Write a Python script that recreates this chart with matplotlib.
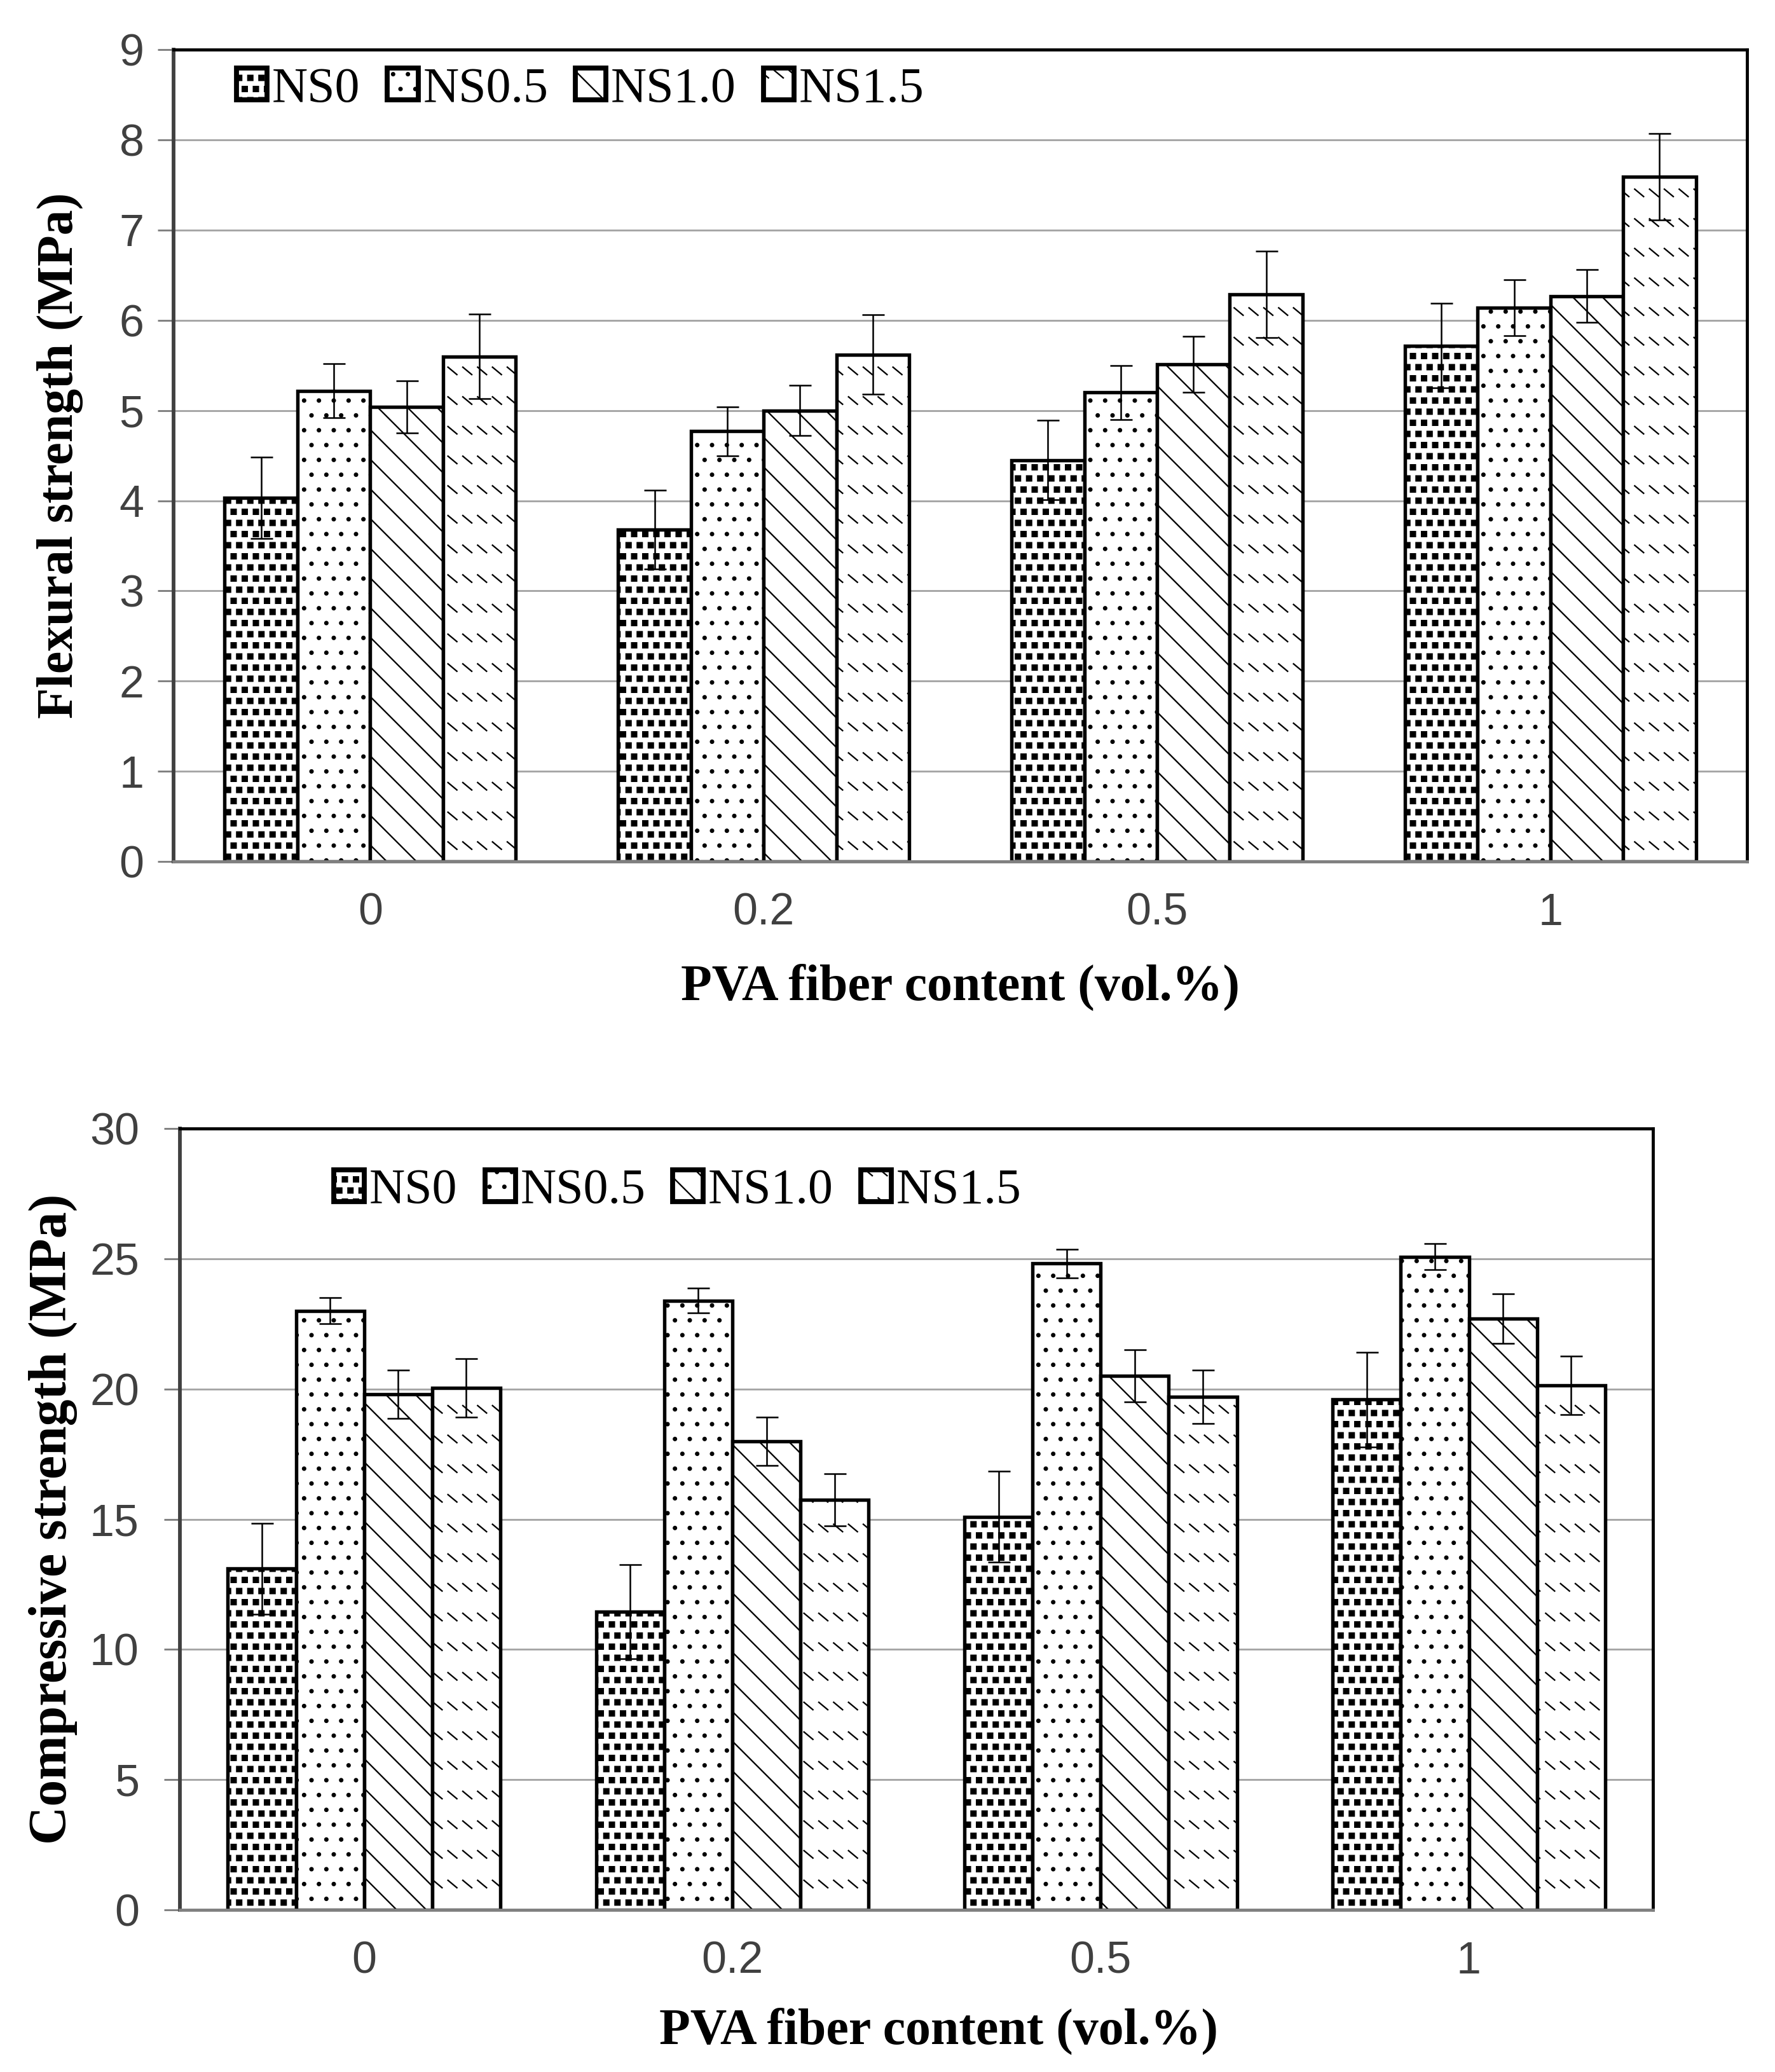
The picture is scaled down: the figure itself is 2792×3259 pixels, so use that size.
import numpy as np
import matplotlib
matplotlib.use('Agg')
import matplotlib.pyplot as plt
import matplotlib.hatch as mhatch
from matplotlib.path import Path

# categories and series
fiber = ['0', '0.2', '0.5', '1']
series = ['NS0', 'NS0.5', 'NS1.0', 'NS1.5']

# flexural strength (MPa)
flex_ns0 = [4.03, 3.68, 4.45, 5.72]
flex_ns05 = [5.22, 4.77, 5.20, 6.14]
flex_ns10 = [5.04, 5.00, 5.51, 6.27]
flex_ns15 = [5.60, 5.62, 6.29, 7.59]
flex_err_ns0 = [0.45, 0.44, 0.44, 0.47]
flex_err_ns05 = [0.30, 0.27, 0.30, 0.31]
flex_err_ns10 = [0.29, 0.28, 0.31, 0.29]
flex_err_ns15 = [0.47, 0.44, 0.48, 0.48]

# compressive strength (MPa)
comp_ns0 = [13.1, 11.45, 15.1, 19.6]
comp_ns05 = [23.0, 23.4, 24.82, 25.08]
comp_ns10 = [19.8, 18.0, 20.5, 22.7]
comp_ns15 = [20.05, 15.75, 19.7, 20.15]
comp_err_ns0 = [1.75, 1.8, 1.75, 1.82]
comp_err_ns05 = [0.5, 0.47, 0.55, 0.5]
comp_err_ns10 = [0.93, 0.93, 1.0, 0.95]
comp_err_ns15 = [1.12, 1.0, 1.02, 1.12]


# Excel-like fill patterns: small squares ('O') and rows of short dashes ('*')
class SquareDots(mhatch.Shapes):
    filled = True
    size = 0.22

    def __init__(self, hatch, density):
        self.num_rows = int(hatch.count('O') * density * 1.4) // 2 * 2
        self.shape_vertices = np.array([[-1, -1], [1, -1], [1, 1], [-1, 1], [-1, -1]], float)
        self.shape_codes = np.array([Path.MOVETO, Path.LINETO, Path.LINETO,
                                     Path.LINETO, Path.CLOSEPOLY], dtype=Path.code_type)
        super().__init__(hatch, density)


class DashRows(mhatch.HatchPatternBase):
    def __init__(self, hatch, density):
        n = hatch.count('*')
        self.rows = 3 * n
        self.cols = 6 * n
        self.num_vertices = self.rows * self.cols * 2

    def set_vertices_and_codes(self, vertices, codes):
        xs = (np.arange(self.cols) + 0.5) / self.cols
        ys = (np.arange(self.rows) + 0.5) / self.rows
        gx, gy = np.meshgrid(xs, ys)
        gx = gx.ravel()
        gy = gy.ravel()
        dx = 0.3 / self.cols
        dy = 0.25 / self.cols
        vertices[0::2, 0] = gx - dx
        vertices[0::2, 1] = gy + dy
        vertices[1::2, 0] = gx + dx
        vertices[1::2, 1] = gy - dy
        codes[0::2] = Path.MOVETO
        codes[1::2] = Path.LINETO


mhatch._hatch_types = [h for h in mhatch._hatch_types
                       if h not in (mhatch.LargeCircles, mhatch.Stars)] + [SquareDots, DashRows]

plt.rcParams['hatch.linewidth'] = 1.2
hatches = ['O', '.', '\\', '*']

DPI = 140
fig = plt.figure(figsize=(2792 / DPI, 3259 / DPI), dpi=DPI)


def draw_panel(ax, data, errs, ymax, ystep, ylabel, ylab_size, ylab_x, tick_pad, leg_anchor, xlab_x):
    x = np.arange(len(fiber))
    w = 0.185
    for i, (vals, err) in enumerate(zip(data, errs)):
        pos = x + (i - 1.5) * w
        ax.bar(pos, vals, w, color='white', edgecolor='black', linewidth=2.8,
               hatch=hatches[i], label=series[i], zorder=2)
        ax.errorbar(pos, vals, yerr=err, fmt='none', ecolor='black',
                    elinewidth=1.3, capsize=9, capthick=1.3, zorder=3)
    ax.set_xlim(-0.5, len(fiber) - 0.5)
    ax.set_ylim(0, ymax)
    ax.set_yticks(np.arange(0, ymax + 0.1, ystep))
    ax.set_xticks(x)
    ax.set_xticklabels(fiber)
    ax.yaxis.grid(True, color='#a6a6a6', linewidth=1.5)
    ax.set_axisbelow(True)
    for lab in ax.get_xticklabels() + ax.get_yticklabels():
        lab.set_family('Liberation Sans')
    ax.tick_params(axis='y', direction='out', length=13, width=1.5, color='#808080',
                   labelsize=36, labelcolor='#404040', pad=tick_pad)
    ax.tick_params(axis='x', length=0, labelsize=36, labelcolor='#404040', pad=25)
    ax.spines['left'].set_color('#404040')
    ax.spines['left'].set_linewidth(3)
    ax.spines['bottom'].set_color('#808080')
    ax.spines['bottom'].set_linewidth(2.5)
    ax.spines['top'].set_linewidth(2.5)
    ax.spines['right'].set_linewidth(2.5)
    ax.set_ylabel(ylabel, family='Liberation Serif', fontweight='bold', fontsize=ylab_size, va='center')
    ax.yaxis.set_label_coords(ylab_x, 0.5)
    ax.set_xlabel('PVA fiber content (vol.%)', family='Liberation Serif',
                  fontweight='bold', fontsize=41, va='center')
    ax.xaxis.set_label_coords(xlab_x, -0.155)
    leg = ax.legend(loc='center left', bbox_to_anchor=leg_anchor, ncol=4, frameon=False,
                    prop={'family': 'Liberation Serif', 'size': 40},
                    handlelength=0.62, handleheight=0.62, handletextpad=0.1,
                    columnspacing=0.55, borderpad=0, borderaxespad=0)
    for h in leg.legend_handles:
        h.set_linewidth(4)


ax1 = fig.add_axes([0.0978, 0.5842, 0.8865, 0.3918])
draw_panel(ax1, [flex_ns0, flex_ns05, flex_ns10, flex_ns15],
           [flex_err_ns0, flex_err_ns05, flex_err_ns10, flex_err_ns15],
           9, 1, 'Flexural strength (MPa)', 41, -0.0723, 11, (0.040, 0.951), 0.5)

ax2 = fig.add_axes([0.1014, 0.0782, 0.8299, 0.3771])
draw_panel(ax2, [comp_ns0, comp_ns05, comp_ns10, comp_ns15],
           [comp_err_ns0, comp_err_ns05, comp_err_ns10, comp_err_ns15],
           30, 5, 'Compressive strength (MPa)', 43, -0.0863, 20, (0.1045, 0.920), 0.515)

fig.savefig('out.png', dpi=DPI, facecolor='white')
